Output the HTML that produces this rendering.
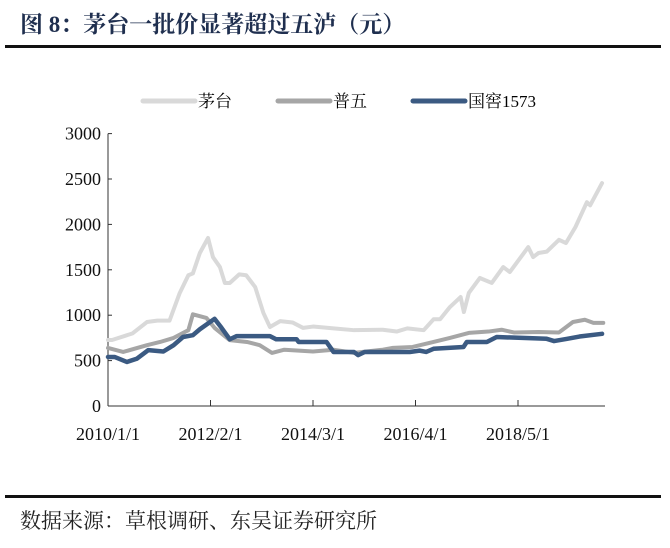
<!DOCTYPE html>
<html><head><meta charset="utf-8"><style>
body{margin:0;background:#fff;width:670px;height:548px;overflow:hidden}
svg{display:block}
text{font-family:"Liberation Serif","Noto Serif CJK SC","Noto Sans CJK SC",serif}
</style></head><body>
<svg id="c" width="670" height="548">
<text x="20" y="32" font-size="23" font-weight="bold" fill="#1f2f4f">图 8：茅台一批价显著超过五泸（元）</text>
<rect x="5" y="45" width="656" height="3" fill="#111"/>
<g>
<g><line x1="143" y1="101" x2="195" y2="101" stroke="#d9d9d9" stroke-width="5" stroke-linecap="round"/><text x="198" y="107" font-size="17">茅台</text></g>
<g><line x1="278" y1="101" x2="330" y2="101" stroke="#a6a6a6" stroke-width="5" stroke-linecap="round"/><text x="333" y="107" font-size="17">普五</text></g>
<g><line x1="413" y1="101" x2="465" y2="101" stroke="#3b5a82" stroke-width="5" stroke-linecap="round"/><text x="468" y="107" font-size="17">国窖1573</text></g>
</g>
<g id="axes"></g>
<g id="series"></g>
<rect x="5" y="495" width="656" height="3" fill="#111"/>
<text x="20" y="528" font-size="21" fill="#222">数据来源：草根调研、东吴证券研究所</text>
</svg>
<script>
const yTicks=[0,500,1000,1500,2000,2500,3000];
const xTickLabels=["2010/1/1","2012/2/1","2014/3/1","2016/4/1","2018/5/1"];
const xTickMonths=[0,25,50,75,100];
const maotaiMonths=[0,1,6,9.5,12,15,17.5,19.6,20.7,22.4,24.4,25.6,27.3,28.5,29.7,32,33.7,35.9,37.9,39.5,42,45,47.6,50,55,60,67,70.4,73,77,79.4,81,83.4,86,86.8,88,90.7,93.6,96.4,98,102.5,103.7,105,107,110,111.7,114,116.8,117.6,120.5];
const maotaiValues=[727,727,800,925,940,940,1245,1440,1460,1685,1850,1640,1530,1355,1355,1450,1440,1310,1025,870,935,920,860,875,855,835,840,820,855,835,955,955,1090,1200,1035,1245,1410,1355,1530,1475,1750,1640,1685,1700,1830,1795,1970,2245,2210,2455];
const puwuMonths=[0,3.7,9.5,12.7,16,19.6,20.7,24,26,29.7,33.9,37,40,43,50,55,60,67,69.5,74.3,79.4,83.4,88,92.8,96,99,105,110,113.4,116.3,118.4,120.8];
const puwuValues=[640,595,670,705,750,835,1010,970,860,725,705,670,585,620,600,620,585,620,640,650,705,750,805,820,840,810,815,810,925,950,915,915];
const guojiaoMonths=[0,1.6,4.6,7,9.8,13.5,16,18.3,20.7,22.4,26,27.7,29.7,31.4,39.5,41,46,46.5,53.3,55,60,61,62.6,73.6,76,77.6,79.4,86.7,87.5,92.4,94.8,107,108.8,112,115,120.5];
const guojiaoValues=[540,540,485,520,615,600,670,760,780,845,960,860,735,770,770,735,735,705,705,595,595,560,595,595,610,595,630,650,705,705,760,740,715,740,765,795];
const X0=108,Y0=406,PXM=4.1,PX500=45.4;
const xs=m=>X0+m*PXM, ys=v=>Y0-v*PX500/500;
const NS="http://www.w3.org/2000/svg";
const ax=document.getElementById('axes'), se=document.getElementById('series');
function mk(t,a,p){const e=document.createElementNS(NS,t);for(const k in a)e.setAttribute(k,a[k]);p.appendChild(e);return e;}
const yl=mk('line',{x1:X0,y1:ys(3000),x2:X0,y2:Y0,stroke:'#333','stroke-width':1},ax);


const xl=mk('line',{x1:X0,y1:Y0,x2:605,y2:Y0,stroke:'#333','stroke-width':1},ax);


yTicks.forEach(v=>{
  mk('line',{x1:X0,y1:ys(v),x2:X0+4,y2:ys(v),stroke:'#333'},ax);
  const t=mk('text',{x:101,y:ys(v)+6,'font-size':18,'text-anchor':'end',fill:'#111'},ax);
  t.textContent=v;
  
  
});
xTickMonths.forEach((m,i)=>{
  mk('line',{x1:xs(m),y1:Y0,x2:xs(m),y2:Y0-6,stroke:'#333'},ax);
  const t=mk('text',{x:xs(m),y:440,'font-size':18,'text-anchor':'middle',fill:'#111'},ax);
  t.textContent=xTickLabels[i];
  
  
});
function line(ms,vs,col,w,name){
  const p=mk('polyline',{points:ms.map((m,i)=>xs(m)+','+ys(vs[i])).join(' '),fill:'none',stroke:col,'stroke-width':w,'stroke-linejoin':'round','stroke-linecap':'round'},se);
  
  
}
line(maotaiMonths,maotaiValues,'#d9d9d9',4,'series-maotai');
line(puwuMonths,puwuValues,'#a6a6a6',4,'series-puwu');
line(guojiaoMonths,guojiaoValues,'#3b5a82',4.5,'series-guojiao-1573');
</script>
</body></html>
